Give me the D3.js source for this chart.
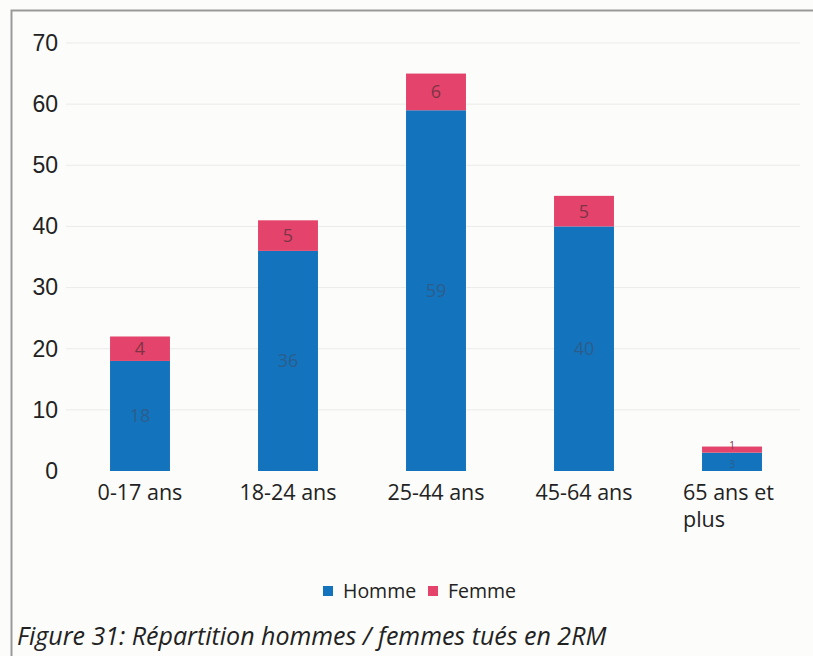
<!DOCTYPE html>
<html>
<head>
<meta charset="utf-8">
<script src="https://cdn.jsdelivr.net/npm/d3@7"></script>
<style>
  html, body { margin: 0; padding: 0; background: #fcfcfa; }
  svg { display: block; }
</style>
</head>
<body>
<svg id="chart" width="813" height="656"></svg>
<script>
// Age groups and victims by sex
const categories = ["0-17 ans", "18-24 ans", "25-44 ans", "45-64 ans", "65 ans et plus"];
const hommes = [18, 36, 59, 40, 3];
const femmes = [4, 5, 6, 5, 1];
const seriesNames = ["Homme", "Femme"];
const seriesColors = ["#1374bd", "#e4446b"];
const yTicks = [0, 10, 20, 30, 40, 50, 60, 70];
const caption = "Figure 31: Répartition hommes / femmes tués en 2RM";

const svg = d3.select("#chart");
const W = 813, H = 656;
const labelFont = "'Open Sans', sans-serif";

// frame around the figure
svg.append("path")
  .attr("d", `M11.5,${H} V10.5 H${W}`)
  .attr("fill", "none").attr("stroke", "#9a9a9a").attr("stroke-width", 2);

const x = d3.scaleBand().domain(categories).range([66, 806]).paddingInner(0.595).paddingOuter(0.2975);
const y = d3.scaleLinear().domain([0, 70]).range([471, 43]);

// gridlines
svg.append("g").selectAll("line").data(yTicks.slice(1)).join("line")
  .attr("x1", 66).attr("x2", 800)
  .attr("y1", d => y(d)).attr("y2", d => y(d))
  .attr("stroke", "#ebebea").attr("stroke-width", 1);

// y axis labels
const yAxis = d3.axisLeft(y).tickValues(yTicks).tickSize(0).tickPadding(0);
const gy = svg.append("g").attr("transform", "translate(58,0)").call(yAxis);
gy.select(".domain").remove();
gy.selectAll("text")
  .attr("font-family", "Liberation Sans, Arial, sans-serif")
  .attr("font-size", 23).attr("fill", "#222");

// stacked bars
const rows = categories.map((c, i) => ({ cat: c, Homme: hommes[i], Femme: femmes[i] }));
const stacked = d3.stack().keys(seriesNames)(rows);
const color = d3.scaleOrdinal().domain(seriesNames).range(seriesColors);

const layers = svg.append("g").selectAll("g").data(stacked).join("g")
  .attr("fill", d => color(d.key));
layers.selectAll("rect").data(d => d).join("rect")
  .attr("x", d => x(d.data.cat))
  .attr("width", x.bandwidth())
  .attr("y", d => y(d[1]))
  .attr("height", d => y(d[0]) - y(d[1]));

// value labels inside segments; thin segments get a smaller label nudged apart
const isThin = d => y(d.v[0]) - y(d.v[1]) < 20;
const labels = svg.append("g").selectAll("g").data(stacked).join("g");
labels.selectAll("text").data(d => d.map(v => ({ v, key: d.key }))).join("text")
  .attr("x", d => x(d.v.data.cat) + x.bandwidth() / 2)
  .attr("y", d => (y(d.v[0]) + y(d.v[1])) / 2 + (isThin(d) ? (d.key === "Femme" ? -4 : 3) : 0))
  .attr("dy", "0.36em")
  .attr("text-anchor", "middle")
  .attr("font-family", labelFont)
  .attr("font-size", d => isThin(d) ? 10 : 18)
  .attr("fill", d => d.key === "Homme" ? "#2b5d8c" : "#7e3446")
  .text(d => d.v.data[d.key]);

// category labels (wrapped)
const xAxisG = svg.append("g");
categories.forEach(c => {
  const cx = x(c) + x.bandwidth() / 2;
  const lines = c === "65 ans et plus" ? ["65 ans et", "plus"] : [c];
  const t = xAxisG.append("text")
    .attr("font-family", labelFont).attr("font-size", 21.5)
    .attr("fill", "#222");
  if (lines.length === 1) {
    t.attr("x", cx).attr("y", 500).attr("text-anchor", "middle").text(c);
  } else {
    const left = cx - 49;
    lines.forEach((l, k) => t.append("tspan").attr("x", left).attr("y", 500 + k * 27).text(l));
  }
});

// legend
const legend = svg.append("g").attr("transform", "translate(323,591)");
const items = [{ name: seriesNames[0], x: 0 }, { name: seriesNames[1], x: 105 }];
items.forEach((it, i) => {
  legend.append("rect").attr("x", it.x).attr("y", -5).attr("width", 10).attr("height", 10)
    .attr("fill", seriesColors[i]);
  legend.append("text").attr("x", it.x + 20).attr("y", 0).attr("dy", "0.35em")
    .attr("font-family", labelFont).attr("font-size", 19.5).attr("fill", "#222")
    .text(it.name);
});

// caption
svg.append("text").attr("x", 17).attr("y", 645)
  .attr("font-family", labelFont).attr("font-style", "italic")
  .attr("font-size", 25).attr("fill", "#222")
  .text(caption);
</script>
</body>
</html>
